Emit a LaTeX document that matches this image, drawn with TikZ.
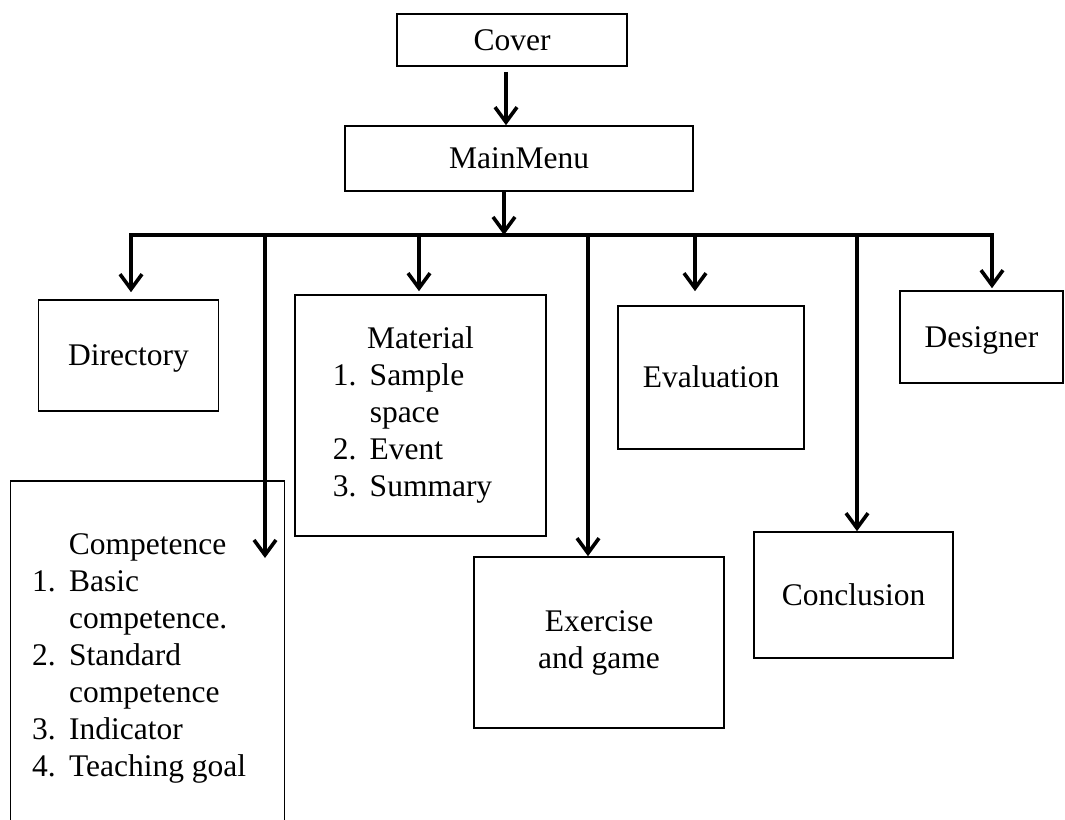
\documentclass[tikz,border=0pt]{standalone}
\usepackage{fontspec}
\setmainfont{Liberation Serif}
\usetikzlibrary{arrows.meta}

\begin{document}
\begin{tikzpicture}[x=1pt, y=-1pt,
        font=\fontsize{31.5}{37}\selectfont,
        box/.style={draw, line width=1.6pt, inner sep=0pt},
        onebox/.style={box, text height=24pt, text depth=4pt},
        flow/.style={line width=3.6pt, -{Straight Barb[length=15pt, width=22pt]}},
        busline/.style={line width=4.6pt, line cap=rect}]
        \useasboundingbox (0,0) rectangle (1065,819);
        % top of the tree
        \node[onebox, minimum width=230pt, minimum height=52pt] (cover) at (512,40) {Cover};
        \node[onebox, minimum width=348pt, minimum height=65pt] (mainmenu) at (519,158.5) {MainMenu};
        \coordinate (bus) at (504,235);
        \draw[flow, shorten <=5pt] ([xshift=-6pt]cover.south) -- ([xshift=-6pt]cover.south |- mainmenu.north);
        \draw[flow] (mainmenu.south -| bus) -- (bus);
        % upper row
        \node[onebox, minimum width=180pt, minimum height=111pt] (directory) at (128.5,355.5) {Directory};
        \node[box, minimum width=251pt, minimum height=241pt] (material) at (420.5,415.5) {%
            \begin{tabular}{@{}p{37pt}@{}l@{\hspace{16pt}}}
                \multicolumn{2}{c}{Material}\\
                1. & Sample\\
                   & space\\
                2. & Event\\
                3. & Summary
            \end{tabular}};
        \node[onebox, minimum width=186.5pt, minimum height=143pt] (evaluation) at (711,377.5) {Evaluation};
        \node[onebox, minimum width=163pt, minimum height=92pt] (designer) at (981.5,337) {Designer};
        % lower row
        \node[box, minimum width=274pt, minimum height=354pt] (competence) at (147.6,658) {%
            \begin{tabular}{@{}p{37pt}@{}l@{\hspace{17pt}}}
                \multicolumn{2}{c}{Competence}\\
                1. & Basic\\
                   & competence.\\
                2. & Standard\\
                   & competence\\
                3. & Indicator\\
                4. & Teaching goal
            \end{tabular}};
        \node[box, minimum width=249.5pt, minimum height=171pt, align=center] (exercise) at (599,642.5) {Exercise\\and game};
        \node[onebox, minimum width=199pt, minimum height=126pt] (conclusion) at (853.5,595) {Conclusion};
        \coordinate (comptip) at (265,558);
        % bus and drops
        \draw[busline] ([xshift=2.5pt]directory.north |- bus) -- ([xshift=10.5pt]designer.north |- bus);
        \foreach \n/\dx/\gap in {directory/2.5pt/7pt, material/-1.5pt/3pt, evaluation/-16pt/14pt, designer/10.5pt/2pt} {
            \draw[flow, shorten >=\gap] ([xshift=\dx]\n.north |- bus) -- ([xshift=\dx]\n.north);
        }
        \draw[flow] (comptip |- bus) -- (comptip);
        \draw[flow] ([xshift=-11pt]exercise.north |- bus) -- ([xshift=-11pt]exercise.north);
        \draw[flow] ([xshift=3.5pt]conclusion.north |- bus) -- ([xshift=3.5pt]conclusion.north);
    \end{tikzpicture}
\end{document}
